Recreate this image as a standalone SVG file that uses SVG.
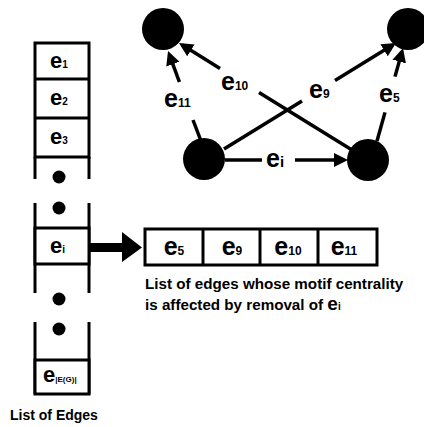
<svg xmlns="http://www.w3.org/2000/svg" width="424" height="427" viewBox="0 0 424 427">
  <style>
    text { font-family: "Liberation Sans", Arial, Helvetica, sans-serif; font-weight: bold; fill: #000; }
    .frame { fill: none; stroke: #000; stroke-width: 3; }
    .cell { fill: #fff; stroke: #000; stroke-width: 3; }
    .edge { fill: none; stroke: #000; stroke-width: 3.5; }
    .node { fill: #000; }
    .lbl { font-size: 22px; }
    .lbl tspan { font-size: 10px; }
    .big { font-size: 25px; }
    .big tspan { font-size: 12px; }
    .cap { font-size: 15.2px; }
  </style>
  <defs>
    <marker id="arrow" markerUnits="userSpaceOnUse" markerWidth="14" markerHeight="14" viewBox="0 0 14 14" refX="10" refY="7" orient="auto">
      <path d="M0,0 L14,7 L0,14 z" fill="#000"/>
    </marker>
  </defs>
  <rect width="424" height="427" fill="#fff"/>

  <!-- vertical list of edges -->
  <g id="edge-list">
    <rect class="cell" x="35" y="43" width="54" height="114"/>
    <line class="frame" x1="35" y1="79" x2="89" y2="79"/>
    <line class="frame" x1="35" y1="118" x2="89" y2="118"/>
    <path class="frame" d="M35,157 V179 M89,157 V179 M35,203 V293 M89,203 V293 M35,322 V394 M89,322 V394"/>
    <rect class="cell" x="35" y="228" width="54" height="36"/>
    <rect class="cell" x="35" y="360" width="54" height="34"/>
    <circle class="node" cx="59" cy="177" r="6.5"/>
    <circle class="node" cx="59" cy="208" r="6.5"/>
    <circle class="node" cx="59" cy="299" r="6.5"/>
    <circle class="node" cx="59" cy="329" r="6.5"/>
    <text class="lbl" x="50" y="68">e<tspan>1</tspan></text>
    <text class="lbl" x="50" y="105">e<tspan>2</tspan></text>
    <text class="lbl" x="50" y="144">e<tspan>3</tspan></text>
    <text class="lbl" x="50" y="253">e<tspan>i</tspan></text>
    <text class="lbl" x="43" y="382">e<tspan style="font-size:8px">|E(G)|</tspan></text>
    <text class="cap" x="10" y="420" style="font-size:14px">List of Edges</text>
  </g>

  <!-- pointer from e_i to its affected-edge list -->
  <g id="pointer">
    <polygon points="90,243 122,243 122,232 142,247.5 122,262 122,252 90,252" fill="#000"/>
  </g>

  <!-- affected edges list -->
  <g id="affected-list">
    <rect class="cell" x="145" y="229" width="232" height="36"/>
    <line class="frame" x1="203" y1="229" x2="203" y2="265"/>
    <line class="frame" x1="260" y1="229" x2="260" y2="265"/>
    <line class="frame" x1="318" y1="229" x2="318" y2="265"/>
    <text class="big" x="174" y="255" text-anchor="middle">e<tspan>5</tspan></text>
    <text class="big" x="232" y="255" text-anchor="middle">e<tspan>9</tspan></text>
    <text class="big" x="288" y="255" text-anchor="middle">e<tspan>10</tspan></text>
    <text class="big" x="344" y="255" text-anchor="middle">e<tspan>11</tspan></text>
    <text class="cap" x="145" y="289">List of edges whose motif centrality</text>
    <text class="cap" x="145" y="310">is affected by removal of <tspan style="font-size:19px">e</tspan><tspan style="font-size:10px">i</tspan></text>
  </g>

  <!-- directed edges of the motif -->
  <g id="connectors">
    <line class="edge" x1="225" y1="160" x2="262" y2="160"/>
    <line class="edge" x1="295" y1="160" x2="344" y2="160" marker-end="url(#arrow)"/>
    <line class="edge" x1="201" y1="141" x2="193" y2="120"/>
    <line class="edge" x1="179.4" y1="82" x2="169.4" y2="54.8" marker-end="url(#arrow)"/>
    <line class="edge" x1="352" y1="150" x2="259" y2="92.5"/>
    <line class="edge" x1="220" y1="68.4" x2="182.4" y2="45.1" marker-end="url(#arrow)"/>
    <line class="edge" x1="224" y1="149" x2="302" y2="100.9"/>
    <line class="edge" x1="335" y1="80.5" x2="392.6" y2="45.1" marker-end="url(#arrow)"/>
    <line class="edge" x1="377" y1="141" x2="385" y2="112.4"/>
    <line class="edge" x1="395" y1="76.6" x2="401.9" y2="51.9" marker-end="url(#arrow)"/>
    <text class="big" x="266" y="167">e<tspan style="font-size:15px">i</tspan></text>
    <text class="big" x="164" y="107">e<tspan>11</tspan></text>
    <text class="big" x="221" y="90">e<tspan>10</tspan></text>
    <text class="big" x="309" y="98">e<tspan>9</tspan></text>
    <text class="big" x="379" y="102">e<tspan>5</tspan></text>
  </g>

  <g id="node-a"><circle class="node" cx="163" cy="29" r="21"/></g>
  <g id="node-b"><circle class="node" cx="408" cy="29" r="21"/></g>
  <g id="node-c"><circle class="node" cx="204" cy="159" r="21"/></g>
  <g id="node-d"><circle class="node" cx="368" cy="160" r="21"/></g>
</svg>
